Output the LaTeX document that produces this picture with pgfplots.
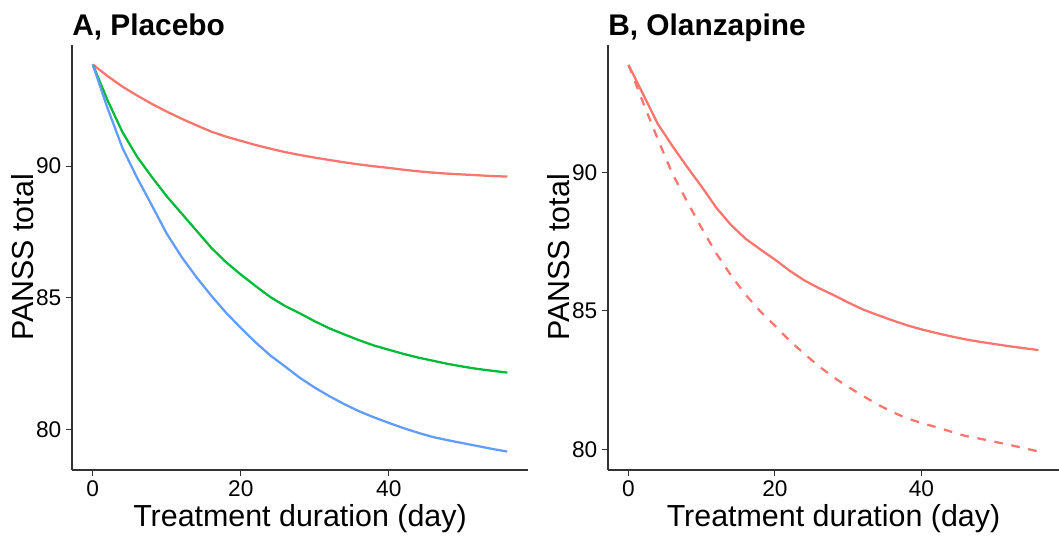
\documentclass[border=0pt]{standalone}
\usepackage{fontspec}
\setmainfont{Liberation Sans}
\usepackage{pgfplots}
\pgfplotsset{compat=1.18}
\definecolor{gred}{HTML}{F8766D}
\definecolor{ggreen}{HTML}{00BA38}
\definecolor{gblue}{HTML}{619CFF}

\pgfplotstableread{
day red green blue
0 93.86 93.86 93.86
2 93.42 92.50 92.20
4 93.02 91.30 90.70
6 92.68 90.35 89.55
8 92.36 89.58 88.50
10 92.07 88.85 87.43
12 91.80 88.20 86.55
14 91.55 87.55 85.78
16 91.31 86.90 85.08
18 91.12 86.35 84.43
20 90.96 85.88 83.85
22 90.80 85.44 83.30
24 90.66 85.02 82.80
26 90.53 84.68 82.38
28 90.42 84.40 81.95
30 90.32 84.10 81.58
32 90.23 83.83 81.25
34 90.14 83.60 80.95
36 90.06 83.38 80.68
38 89.99 83.18 80.45
40 89.93 83.02 80.24
42 89.86 82.86 80.04
44 89.80 82.72 79.86
46 89.75 82.60 79.70
48 89.71 82.48 79.58
50 89.68 82.38 79.47
52 89.65 82.29 79.36
54 89.62 82.22 79.25
56 89.60 82.15 79.15
}\placebo

\pgfplotstableread{
day solid dashed
0 93.88 93.88
2 92.82 92.52
4 91.75 91.20
6 90.95 89.95
8 90.20 88.95
10 89.48 87.98
12 88.72 87.07
14 88.10 86.28
16 87.60 85.58
18 87.22 84.98
20 86.85 84.46
22 86.45 83.92
24 86.10 83.45
26 85.82 83.00
28 85.57 82.60
30 85.30 82.25
32 85.05 81.93
34 84.85 81.62
36 84.66 81.35
38 84.48 81.12
40 84.33 80.95
42 84.20 80.80
44 84.08 80.64
46 83.97 80.48
48 83.88 80.38
50 83.80 80.27
52 83.72 80.16
54 83.65 80.04
56 83.58 79.92
}\olanz

\pgfplotsset{
  panel/.style={
    scale only axis,
    height=318.75pt,
    axis x line*=bottom, axis y line*=left,
    axis line style={black!80, line width=0.8pt, -},
    tick align=outside,
    major tick length=4.5pt,
    every tick/.style={black!80, line width=0.8pt},
    xtick={0,20,40},
    ytick={80,85,90},
    xmin=-2.8, xmax=58.8,
    tick label style={font=\fontsize{17}{20}\selectfont, black},
    /pgf/number format/assume math mode=true,
    label style={font=\fontsize{22.8}{27}\selectfont},
    xlabel={Treatment duration (day)},
    ylabel={PANSS total},
    xlabel style={at={(axis description cs:0.5,-0.134)}, anchor=base},
    every axis title shift=0pt,
    title style={font=\fontsize{22.4}{26}\selectfont\bfseries, anchor=base west, inner xsep=0pt, at={(axis description cs:0,1.0235)}},
    every axis plot/.append style={line width=1.7pt, line join=round, no markers},
  }
}

\begin{document}
\begin{tikzpicture}
\begin{axis}[panel,
  at={(54pt,49.5pt)}, anchor=south west,
  width=342pt,
  ymin=78.45, ymax=94.6,
  title={A, Placebo},
  ylabel style={at={(axis description cs:-0.1086,0.5)}, anchor=center},
]
\addplot[gred] table[x=day, y=red] {\placebo};
\addplot[ggreen] table[x=day, y=green] {\placebo};
\addplot[gblue] table[x=day, y=blue] {\placebo};
\end{axis}

\begin{axis}[panel,
  at={(456pt,49.5pt)}, anchor=south west,
  width=338.25pt,
  ymin=79.25, ymax=94.6,
  title={B, Olanzapine},
  ylabel style={at={(axis description cs:-0.1098,0.5)}, anchor=center},
]
\addplot[gred] table[x=day, y=solid] {\olanz};
\addplot[gred, dash pattern=on 6.5pt off 6.5pt] table[x=day, y=dashed] {\olanz};
\end{axis}
\pgfresetboundingbox
\useasboundingbox (0,0) rectangle (794.25pt,402pt);
\end{tikzpicture}
\end{document}
